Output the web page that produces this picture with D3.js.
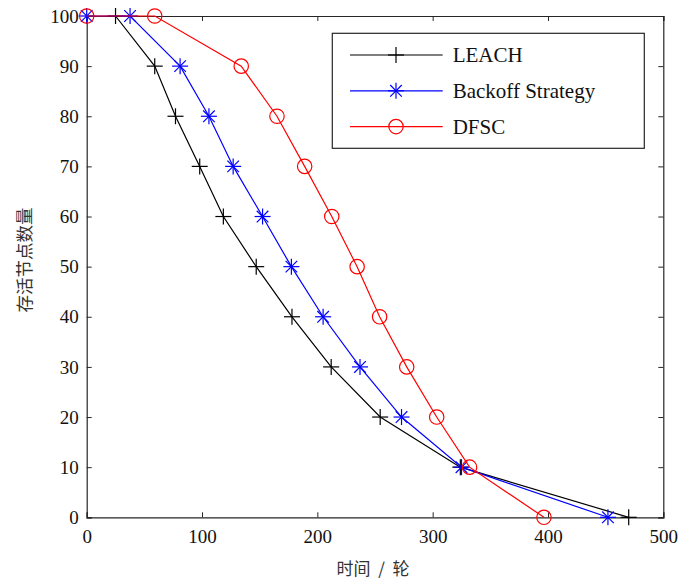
<!DOCTYPE html>
<html><head><meta charset="utf-8">
<script src="https://cdn.jsdelivr.net/npm/d3@7"></script>
<style>
html,body{margin:0;padding:0;background:#fff;}
text{font-family:"Liberation Serif","Times New Roman","Noto Sans CJK SC",serif;}
</style></head>
<body><svg id="c" width="684" height="586"></svg>
<script>
const seriesNames = ["LEACH", "Backoff Strategy", "DFSC"];
const seriesColors = ["#000000", "#0000ff", "#ff0000"];
const seriesMarkers = ["plus", "star", "circle"];
const leachX = [25, 59, 77, 98, 118.5, 147, 178, 212, 254.5, 324, 470];
const leachY = [100, 90, 80, 70, 60, 50, 40, 30, 20, 10, 0];
const backoffX = [0, 37.6, 81, 106, 127, 152.5, 177.5, 205, 237, 273, 325, 452];
const backoffY = [100, 100, 90, 80, 70, 60, 50, 40, 30, 20, 10, 0];
const dfscX = [0, 59, 134, 165, 189, 212.5, 234.5, 254, 277.5, 303.5, 332, 396.5];
const dfscY = [100, 100, 90, 80, 70, 60, 50, 40, 30, 20, 10, 0];
const xTicks = [0, 100, 200, 300, 400, 500];
const yTicks = [0, 10, 20, 30, 40, 50, 60, 70, 80, 90, 100];
const xLabel = "时间  /  轮";
const yLabel = "存活节点数量";

const seriesX = [leachX, backoffX, dfscX];
const seriesY = [leachY, backoffY, dfscY];

const svg = d3.select("#c");
const L = 86.7, R = 663.3, T = 16, B = 517.3;
const x = d3.scaleLinear().domain([0, 500]).range([L, R]);
const y = d3.scaleLinear().domain([0, 100]).range([B, T]);
const axisColor = "#262626";
const fs = 19;

// axes with inward ticks
const gx = svg.append("g").attr("transform", `translate(0,${B})`)
  .call(d3.axisBottom(x).tickValues(xTicks).tickSize(-5).tickPadding(12).tickFormat(d3.format("d")));
const gxt = svg.append("g").attr("transform", `translate(0,${T})`)
  .call(d3.axisTop(x).tickValues(xTicks).tickSize(-5).tickFormat(""));
const gy = svg.append("g").attr("transform", `translate(${L},0)`)
  .call(d3.axisLeft(y).tickValues(yTicks).tickSize(-5).tickPadding(8).tickFormat(d3.format("d")));
const gyr = svg.append("g").attr("transform", `translate(${R},0)`)
  .call(d3.axisRight(y).tickValues(yTicks).tickSize(-5).tickFormat(""));
[gx, gxt, gy, gyr].forEach(g => {
  g.selectAll("path.domain").attr("stroke", axisColor).attr("stroke-width", 1.2);
  g.selectAll(".tick line").attr("stroke", axisColor).attr("stroke-width", 1);
  g.selectAll("text").attr("fill", "#111").style("font-size", fs + "px")
    .style("font-family", '"Liberation Serif","Times New Roman",serif');
});

// axis labels
svg.append("text").attr("x", (L + R) / 2 - 2).attr("y", 575).attr("text-anchor", "middle")
  .attr("xml:space", "preserve").style("white-space", "pre")
  .style("font-family", '"Noto Sans CJK SC",sans-serif').style("font-size", "17px").attr("fill", "#333")
  .text(xLabel);
svg.append("text").attr("transform", `translate(31,260) rotate(-90)`).attr("text-anchor", "middle")
  .style("font-family", '"Noto Sans CJK SC",sans-serif').style("font-size", "17.5px").attr("fill", "#333")
  .text(yLabel);

function drawMarker(g, type, cx, cy, color) {
  if (type === "plus") {
    const s = 8;
    g.append("line").attr("x1", cx).attr("x2", cx).attr("y1", cy - s).attr("y2", cy + s).attr("stroke", color).attr("stroke-width", 1.2);
    g.append("line").attr("x1", cx - s).attr("x2", cx + s).attr("y1", cy).attr("y2", cy).attr("stroke", color).attr("stroke-width", 1.2);
  } else if (type === "star") {
    const s = 8, d = 5.8;
    [[0, -s, 0, s], [-s, 0, s, 0], [-d, -d, d, d], [-d, d, d, -d]].forEach(a =>
      g.append("line").attr("x1", cx + a[0]).attr("y1", cy + a[1]).attr("x2", cx + a[2]).attr("y2", cy + a[3])
        .attr("stroke", color).attr("stroke-width", 1.2));
  } else {
    g.append("circle").attr("cx", cx).attr("cy", cy).attr("r", 7.2).attr("fill", "none")
      .attr("stroke", color).attr("stroke-width", 1.2);
  }
}

const line = d3.line().x(d => x(d[0])).y(d => y(d[1]));
seriesNames.forEach((name, i) => {
  const pts = seriesX[i].map((v, j) => [v, seriesY[i][j]]);
  const g = svg.append("g");
  g.append("path").datum(pts).attr("d", line).attr("fill", "none")
    .attr("stroke", seriesColors[i]).attr("stroke-width", 1.2);
  pts.forEach(p => drawMarker(g, seriesMarkers[i], x(p[0]), y(p[1]), seriesColors[i]));
});

// legend
const lg = svg.append("g");
lg.append("rect").attr("x", 332.3).attr("y", 33.3).attr("width", 312).attr("height", 115)
  .attr("fill", "#fff").attr("stroke", axisColor).attr("stroke-width", 1.2);
seriesNames.forEach((name, i) => {
  const ry = 55 + i * 35.8;
  lg.append("line").attr("x1", 350).attr("x2", 442.7).attr("y1", ry).attr("y2", ry)
    .attr("stroke", seriesColors[i]).attr("stroke-width", 1.2);
  drawMarker(lg, seriesMarkers[i], 396, ry, seriesColors[i]);
  lg.append("text").attr("x", 452.7).attr("y", ry + 7).attr("fill", "#111")
    .style("font-size", "21px").text(name);
});
</script></body></html>
